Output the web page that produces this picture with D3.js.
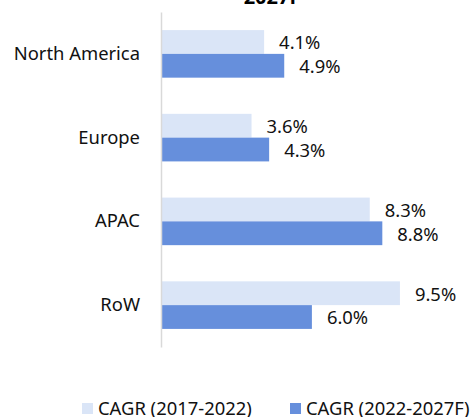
<!DOCTYPE html>
<html>
<head>
<meta charset="utf-8">
<script src="https://cdn.jsdelivr.net/npm/d3@7"></script>
<style>
    body { margin: 0; background: #fff; }
    svg { display: block; font-family: "Noto Sans", "Open Sans", sans-serif; }
</style>
</head>
<body>
<div id="chart"></div>
<script>
// chart data
const regions = ["North America", "Europe", "APAC", "RoW"];
const seriesNames = ["CAGR (2017-2022)", "CAGR (2022-2027F)"];
const cagr2017 = [4.1, 3.6, 8.3, 9.5];
const cagr2022 = [4.9, 4.3, 8.8, 6.0];
const titleLine = "2027F";

const colors = ["#dae5f7", "#668fdc"];

function regionChart()
{
    // set spacing
    width = 476;
    height = 417;
    margin = ({top: 12, right: 40, bottom: 75, left: 161});
    fontSize = 18.4;
    // rows of data
    const rows = regions.map((r, i) => ({region: r, vals: [cagr2017[i], cagr2022[i]]}));
    // scales
    const xScale = d3.scaleLinear([0, 10], [margin.left, margin.left + 251.5]);
    const yScale = d3.scaleBand(regions, [margin.top, height - margin.bottom + 5])
        .paddingInner(0.432)
        .paddingOuter(0.216);
    const subScale = d3.scaleBand([0, 1], [0, yScale.bandwidth()]);
    // create view
    const svg = d3.select("#chart").append("svg")
        .attr("width", width)
        .attr("height", height)
        .attr("viewBox", [0, 0, width, height]);
    // title (only its last line shows)
    svg.append("text")
        .attr("x", 272)
        .attr("y", 4)
        .attr("text-anchor", "middle")
        .attr("font-weight", "bold")
        .attr("font-size", 20)
        .attr("fill", "#000")
        .text(titleLine);
    // bars
    const groups = svg.append("g")
        .selectAll("g")
        .data(rows)
        .join("g")
        .attr("transform", d => `translate(0,${yScale(d.region)})`);
    groups.selectAll("rect")
        .data(d => d.vals)
        .join("rect")
        .attr("x", xScale(0))
        .attr("y", (d, i) => subScale(i))
        .attr("width", d => xScale(d) - xScale(0))
        .attr("height", subScale.bandwidth())
        .attr("fill", (d, i) => colors[i]);
    // value labels
    groups.selectAll("text")
        .data(d => d.vals)
        .join("text")
        .attr("x", d => xScale(d) + 15)
        .attr("y", (d, i) => subScale(i) + subScale.bandwidth() / 2 + 1)
        .attr("dy", "0.35em")
        .attr("font-size", fontSize)
        .attr("fill", "#111")
        .text(d => d.toFixed(1) + "%");
    // y axis
    const yAxis = d3.axisLeft(yScale).tickSize(0).tickPadding(21);
    svg.append("g")
        .attr("transform", `translate(${margin.left},0)`)
        .call(yAxis)
        .attr("font-family", null)
        .attr("font-size", fontSize)
        .call(g => g.select(".domain")
            .attr("stroke", "#d9d9d9")
            .attr("stroke-width", 1.5))
        .call(g => g.selectAll(".tick text")
            .attr("fill", "#111"));
    // legend
    const legendX = [82, 290];
    const legend = svg.append("g")
        .selectAll("g")
        .data(seriesNames)
        .join("g")
        .attr("transform", (d, i) => `translate(${legendX[i]},403)`);
    legend.append("rect")
        .attr("width", 11)
        .attr("height", 11)
        .attr("fill", (d, i) => colors[i]);
    legend.append("text")
        .attr("x", 16)
        .attr("y", 5.5)
        .attr("dy", "0.35em")
        .attr("font-size", fontSize)
        .attr("fill", "#111")
        .text(d => d);
}

regionChart();
</script>
</body>
</html>
